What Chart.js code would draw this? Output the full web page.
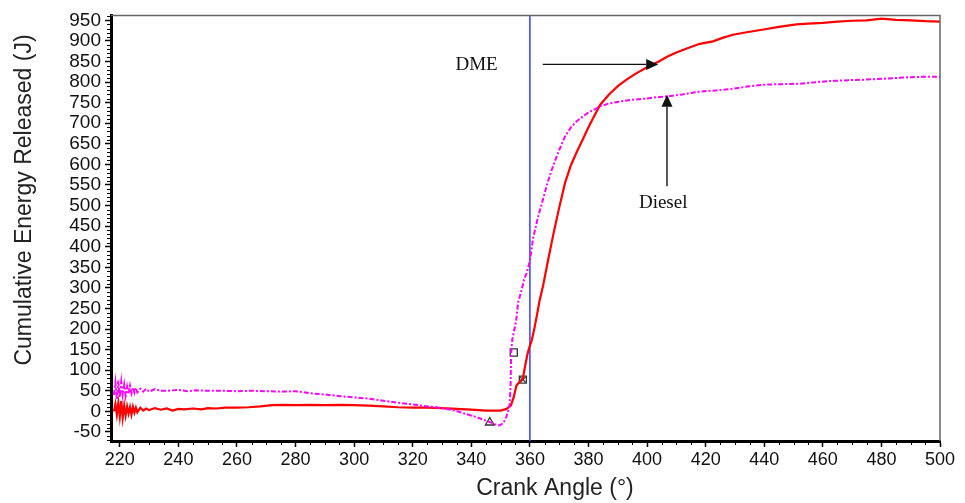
<!DOCTYPE html>
<html>
<head>
<meta charset="utf-8">
<script src="https://cdn.jsdelivr.net/npm/chart.js@4.4.1/dist/chart.umd.min.js"></script>
<style>
  html, body { margin: 0; padding: 0; background: #fff; }
  #wrap { width: 965px; height: 503px; }
</style>
</head>
<body>
<div id="wrap"><canvas id="chart" width="965" height="503"></canvas></div>
<script>
// crank angle ticks and energy ticks
const xTicks = [220, 240, 260, 280, 300, 320, 340, 360, 380, 400, 420, 440, 460, 480, 500];
const yTicks = [-50, 0, 50, 100, 150, 200, 250, 300, 350, 400, 450, 500, 550, 600, 650, 700, 750, 800, 850, 900, 950];

// DME cumulative energy (J) vs crank angle (deg)
const dmeAngle = [218, 218.5, 219, 219.5, 220, 220.5, 221, 221.5, 222, 222.5, 223, 223.5, 224, 224.5, 225, 225.5, 226, 227, 228, 229, 230, 232,
  234, 236, 238, 240, 242, 245, 248, 250, 253, 256, 260, 264, 268, 272, 276, 280, 285, 290, 295, 300,
  305, 310, 315, 320, 325, 330, 335, 340, 345, 350, 352, 353.5, 354.5, 355.4, 356.5, 357.6, 358.5, 359.2, 360, 360.6,
  361.5, 362.7, 363.3, 364.5, 366, 368, 370, 372, 374, 376, 378, 380, 382, 384, 387, 390,
  393, 396, 400, 404, 407, 410, 414, 418, 422.5, 426, 429.3, 434, 440.8, 445, 451, 455, 460, 465, 470, 475,
  480, 485, 490, 495, 500];
const dmeEnergy = [0, 18, -8, 20, -12, 25, -15, 14, -10, 12, -5, 10, -8, 11, -3, 9, -2, 9, 2, 7, 3, 8,
  4, 7, 2, 6, 5, 7, 5, 8, 7, 9, 9, 10, 12, 15, 16, 15, 16, 15, 16, 15,
  14, 12, 10, 9, 9, 8, 6, 4, 2, 2, 6, 14, 35, 63, 72, 80, 115, 140, 160, 172,
  200, 245, 269, 305, 360, 430, 495, 555, 598, 630, 660, 690, 718, 745, 770, 790,
  806, 820, 836, 850, 862, 872, 883, 893, 899, 908, 915, 921, 929, 934, 940, 942, 944, 947, 949, 950,
  954, 951, 950, 948, 947];

// Diesel cumulative energy (J) vs crank angle (deg)
const dieselAngle = [218, 218.5, 219, 219.5, 220, 220.5, 221, 221.5, 222, 222.5, 223, 223.5, 224, 224.5, 225, 225.5, 226, 227, 228, 229, 230, 232, 234,
  236, 238, 240, 243, 246, 250, 255, 260, 265, 270, 275, 280, 285, 290, 295, 300, 305, 310, 315, 320,
  325, 328, 332, 335, 338, 341.8, 344, 346.3, 348, 349.7, 351, 352, 353, 353.4, 353.6, 354, 355.3, 356, 357, 358,
  358.8, 360, 361.1, 362.7, 364, 366, 368, 370, 372, 374, 376, 378, 380, 384, 387, 391, 395, 399.8, 403, 406.6,
  412, 418, 424, 429.3, 435, 440.8, 446, 452, 458, 464, 470, 474.9, 480, 485, 490, 495, 500];
const dieselEnergy = [40, 70, 30, 75, 35, 72, 40, 65, 38, 60, 42, 62, 44, 58, 45, 57, 46, 55, 48, 55, 48, 54, 50,
  50, 51, 52, 49, 51, 50, 50, 49, 50, 49, 48, 49, 44, 41, 37, 34, 31, 26, 21, 17,
  12, 10, 5, 1, -6, -14, -20, -26, -31, -34, -28, -12, 10, 60, 140, 175, 220, 265, 290, 320,
  334, 365, 421, 470, 503, 555, 598, 635, 668, 690, 705, 716, 726, 741, 748, 753, 757, 760, 763, 765,
  770, 777, 780, 784, 790, 794, 795, 796, 800, 803, 805, 806, 808, 810, 812, 813, 813];

// marker symbols on the curves
const dieselMarkAngle = [354.5, 346.3];
const dieselMarkEnergy = [143, -27];
const dmeMarkAngle = [357.6];
const dmeMarkEnergy = [77];

const tdcAngle = 360;

const toXY = (xs, ys) => xs.map((x, i) => ({ x: x, y: ys[i] }));

const notes = [
  { text: 'DME', x: 341.8, y: 842, from: [364.4, 843], to: [403.8, 843] },
  { text: 'Diesel', x: 405.5, y: 507, from: [406.8, 547], to: [406.8, 769] },
];

function arrow(ctx, x1, y1, x2, y2) {
  const a = Math.atan2(y2 - y1, x2 - x1);
  const len = 12, half = 5.5;
  ctx.beginPath();
  ctx.moveTo(x1, y1);
  ctx.lineTo(x2 - Math.cos(a) * len, y2 - Math.sin(a) * len);
  ctx.stroke();
  ctx.beginPath();
  ctx.moveTo(x2, y2);
  ctx.lineTo(x2 - Math.cos(a) * len - Math.sin(a) * half, y2 - Math.sin(a) * len + Math.cos(a) * half);
  ctx.lineTo(x2 - Math.cos(a) * len + Math.sin(a) * half, y2 - Math.sin(a) * len - Math.cos(a) * half);
  ctx.closePath();
  ctx.fill();
}

const decorPlugin = {
  id: 'decor',
  beforeDatasetsDraw(chart) {
    const { ctx, chartArea, scales } = chart;
    const px = scales.x.getPixelForValue(tdcAngle);
    ctx.save();
    ctx.strokeStyle = '#4646ff';
    ctx.lineWidth = 1.6;
    ctx.beginPath();
    ctx.moveTo(px, chartArea.top);
    ctx.lineTo(px, chartArea.bottom);
    ctx.stroke();
    ctx.restore();
  },
  afterDraw(chart) {
    const { ctx, chartArea, scales } = chart;
    const xs = scales.x, ys = scales.y;
    ctx.save();
    // top / right frame
    ctx.strokeStyle = '#666';
    ctx.lineWidth = 1.5;
    ctx.beginPath();
    ctx.moveTo(chartArea.left, chartArea.top);
    ctx.lineTo(chartArea.right, chartArea.top);
    ctx.lineTo(chartArea.right, chartArea.bottom);
    ctx.stroke();

    // minor ticks
    ctx.strokeStyle = '#000';
    ctx.lineWidth = 1;
    ctx.beginPath();
    for (let v = 220; v <= 500; v += 5) {
      if (v % 20 === 0) continue;
      const p = Math.round(xs.getPixelForValue(v)) + 0.5;
      ctx.moveTo(p, chartArea.bottom);
      ctx.lineTo(p, chartArea.bottom + 4);
    }
    for (let v = -70; v <= 960; v += 10) {
      if (v % 50 === 0) continue;
      const p = Math.round(ys.getPixelForValue(v)) + 0.5;
      ctx.moveTo(chartArea.left, p);
      ctx.lineTo(chartArea.left - 4, p);
    }
    ctx.stroke();

    // annotations
    ctx.fillStyle = '#111';
    ctx.strokeStyle = '#111';
    ctx.lineWidth = 1.4;
    ctx.font = '19px "Liberation Serif", serif';
    ctx.textAlign = 'center';
    ctx.textBaseline = 'middle';
    notes.forEach(n => {
      ctx.fillText(n.text, xs.getPixelForValue(n.x), ys.getPixelForValue(n.y));
      arrow(ctx, xs.getPixelForValue(n.from[0]), ys.getPixelForValue(n.from[1]),
        xs.getPixelForValue(n.to[0]), ys.getPixelForValue(n.to[1]));
    });

    // axis titles
    ctx.fillStyle = '#222';
    ctx.font = '23px "Liberation Sans", Arial, sans-serif';
    ctx.fillText('Crank Angle (°)', 555, 489);
    ctx.translate(25, 200);
    ctx.rotate(-Math.PI / 2);
    ctx.fillText('Cumulative Energy Released (J)', 0, 0);
    ctx.restore();
  }
};

const xFont = { family: '"Liberation Sans", Arial, sans-serif', size: 18 };
const yFont = { family: '"Liberation Sans", Arial, sans-serif', size: 19 };

new Chart(document.getElementById('chart'), {
  type: 'line',
  data: {
    datasets: [
      {
        label: 'Diesel',
        data: toXY(dieselAngle, dieselEnergy),
        borderColor: '#ff00ff',
        borderWidth: 2,
        borderDash: [5, 2, 2, 2],
        pointRadius: 0,
        tension: 0,
      },
      {
        label: 'DME',
        data: toXY(dmeAngle, dmeEnergy),
        borderColor: '#ff0000',
        borderWidth: 2.2,
        pointRadius: 0,
        tension: 0,
      },
      {
        label: 'Diesel marks',
        data: toXY(dieselMarkAngle, dieselMarkEnergy),
        showLine: false,
        pointStyle: ['rect', 'triangle'],
        pointRadius: 5,
        borderColor: '#333',
        borderWidth: 1.3,
        backgroundColor: 'rgba(255,255,255,0)',
      },
      {
        label: 'DME marks',
        data: toXY(dmeMarkAngle, dmeMarkEnergy),
        showLine: false,
        pointStyle: 'rect',
        pointRadius: 5,
        borderColor: '#333',
        borderWidth: 1.3,
        backgroundColor: 'rgba(255,255,255,0)',
      },
      {
        label: 'DME marks cross',
        data: toXY(dmeMarkAngle, dmeMarkEnergy),
        showLine: false,
        pointStyle: 'crossRot',
        pointRadius: 4,
        borderColor: '#333',
        borderWidth: 1.2,
      },
    ],
  },
  options: {
    responsive: false,
    animation: false,
    devicePixelRatio: 1,
    layout: { padding: { top: 14, right: 25, left: 0, bottom: 0 } },
    plugins: { legend: { display: false }, tooltip: { enabled: false } },
    scales: {
      x: {
        type: 'linear',
        min: 217,
        max: 500,
        afterBuildTicks: s => { s.ticks = xTicks.map(v => ({ value: v })); },
        afterFit: s => { s.height = 62; },
        ticks: { font: xFont, color: '#111', padding: 2, maxRotation: 0, autoSkip: false },
        grid: { display: true, drawOnChartArea: false, drawTicks: true, tickLength: 6, tickColor: '#000', tickWidth: 1.5 },
        border: { display: true, color: '#000', width: 3 },
      },
      y: {
        type: 'linear',
        min: -72,
        max: 962,
        afterBuildTicks: s => { s.ticks = yTicks.map(v => ({ value: v })); },
        afterFit: s => { s.width = 111; },
        ticks: { font: yFont, color: '#111', padding: 4, autoSkip: false },
        grid: { display: true, drawOnChartArea: false, drawTicks: true, tickLength: 6, tickColor: '#000', tickWidth: 1.5 },
        border: { display: true, color: '#000', width: 3 },
      },
    },
  },
  plugins: [decorPlugin],
});
</script>
</body>
</html>
